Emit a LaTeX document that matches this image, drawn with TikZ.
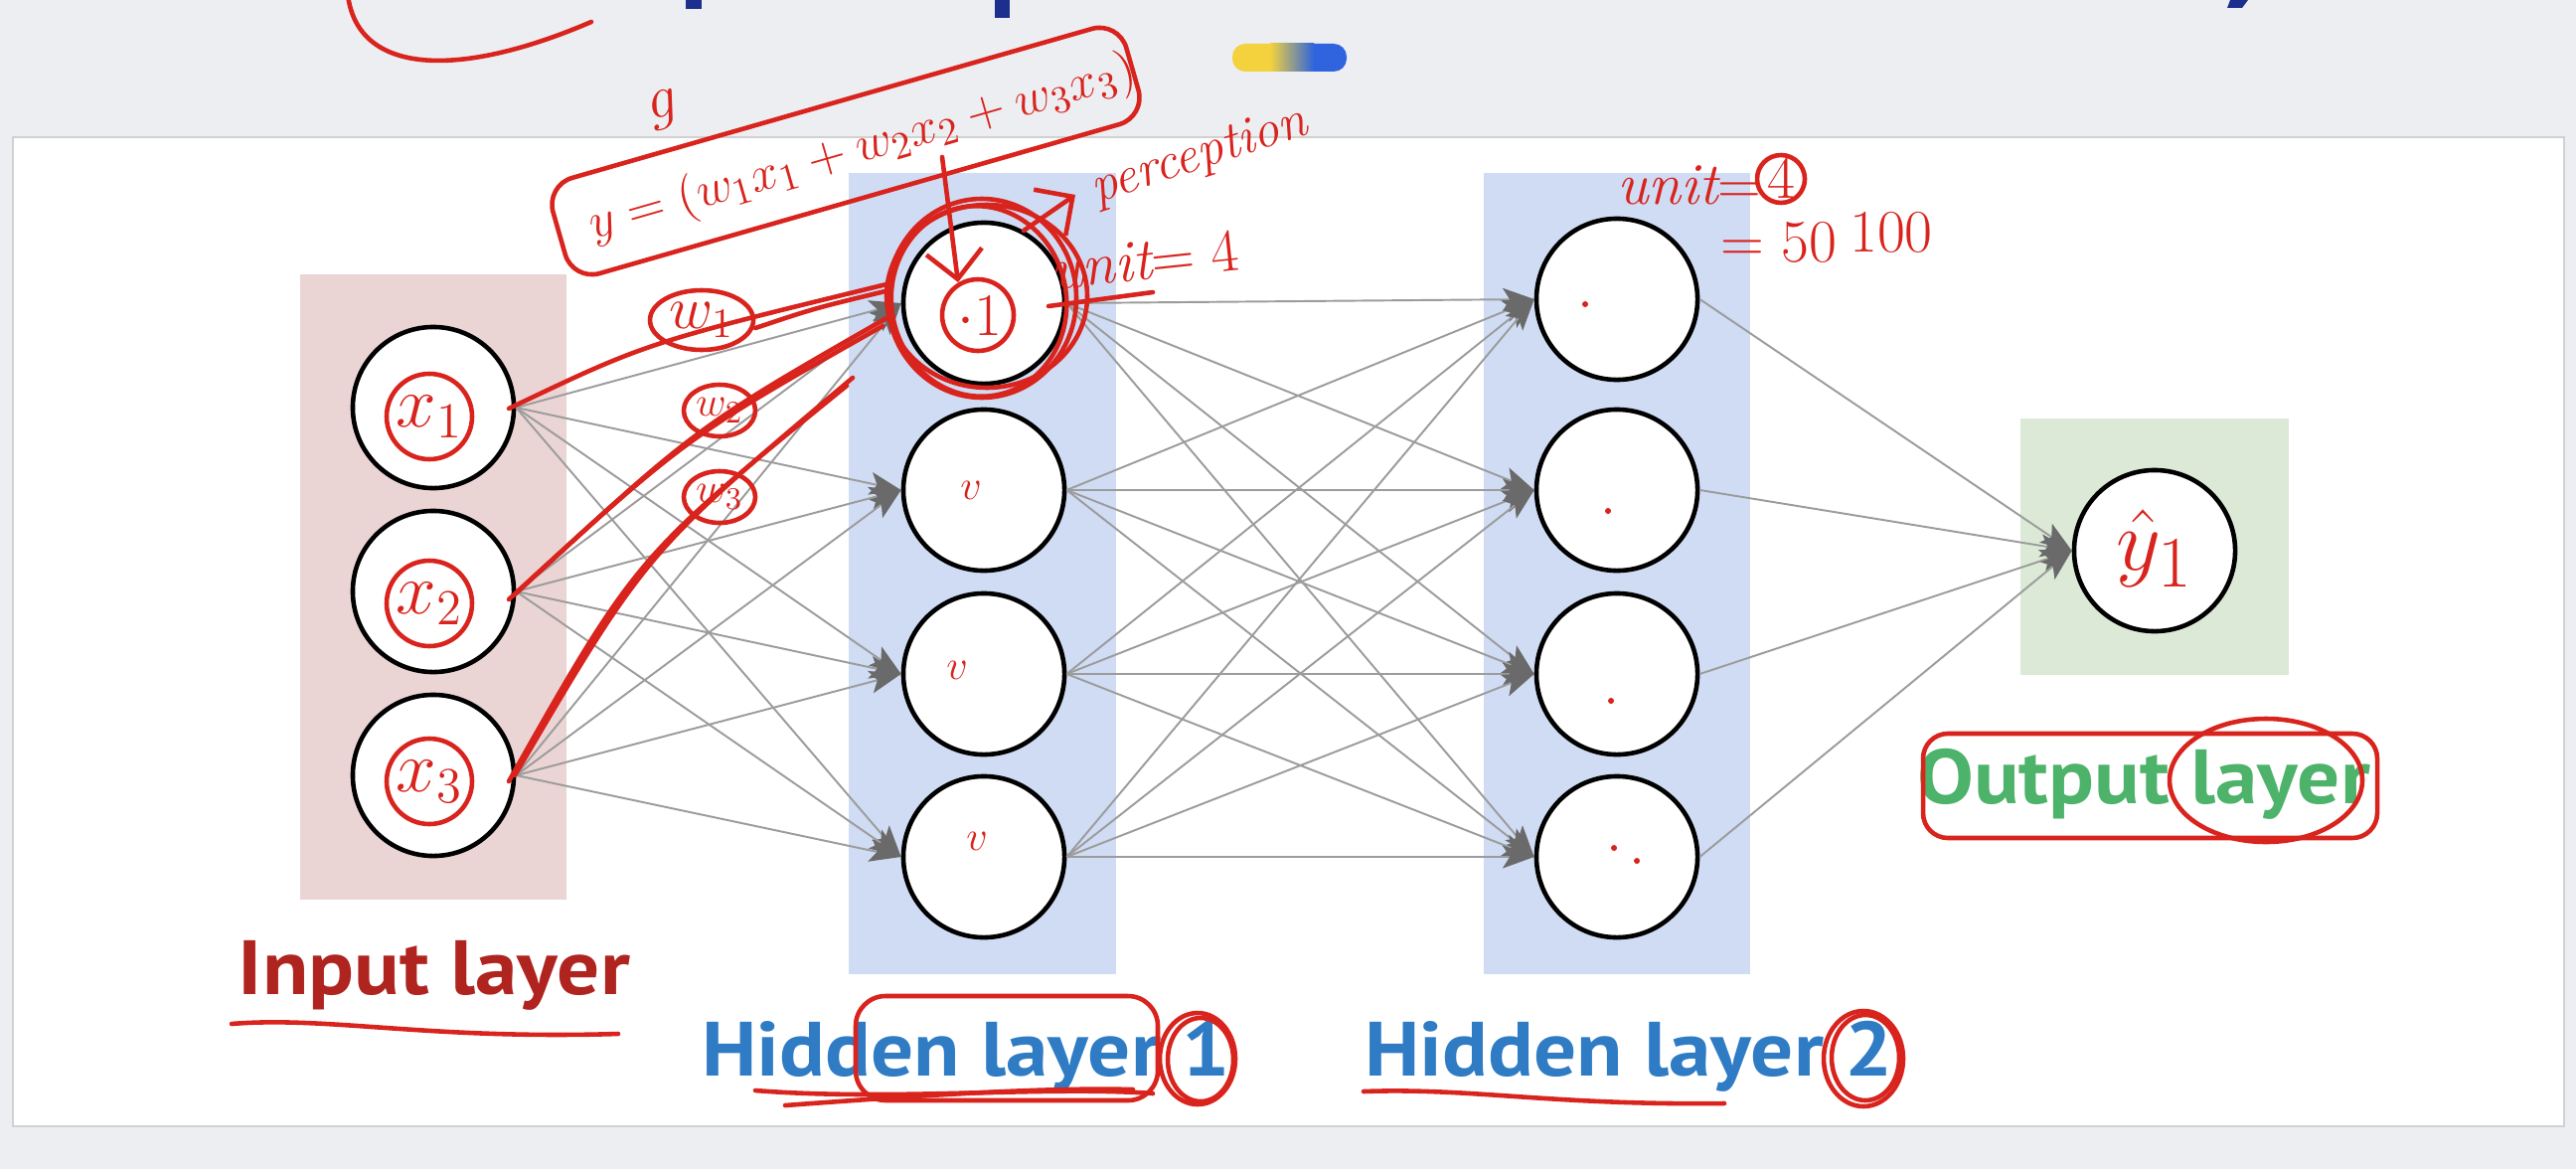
\documentclass[tikz,border=0pt]{standalone}
\usepackage{fontspec}
\newfontfamily\labfont{PT Sans}
\usetikzlibrary{arrows.meta}
\definecolor{bgcol}{HTML}{ECEEF2}
\definecolor{pinkbg}{HTML}{EBD4D4}
\definecolor{bluebg}{HTML}{CFDCF3}
\definecolor{greenbg}{HTML}{DCE9D7}
\definecolor{inred}{HTML}{B02420}
\definecolor{hidblue}{HTML}{2F7CC5}
\definecolor{outgreen}{HTML}{4DB26A}
\definecolor{conngray}{HTML}{9C9C9C}
\definecolor{arrowgray}{HTML}{6A6A6A}
\definecolor{penred}{HTML}{D9231D}
\definecolor{pillyellow}{HTML}{F3D23E}
\definecolor{pillblue}{HTML}{2F64DE}
\definecolor{titleblue}{HTML}{1C2F8E}
\begin{document}
\begin{tikzpicture}[x=0.01cm,y=-0.01cm,
  neuron/.style={circle, draw=black, line width=1.3pt, fill=white, minimum size=1.62cm, inner sep=0pt},
  conn/.style={draw=conngray, line width=0.55pt, -{Stealth[length=9pt,width=6.5pt,inset=2pt,color=arrowgray]}},
  lab/.style={font=\labfont\bfseries\fontsize{22pt}{26pt}\selectfont, anchor=base, inner sep=0pt, xscale=1.1},
  pen/.style={draw=penred, line width=1.3pt, line cap=round, line join=round},
  pentext/.style={text=penred, inner sep=0pt}]
\useasboundingbox (0,0) rectangle (2592,1176);
\fill[bgcol] (0,0) rectangle (2592,1176);
% title remnants and pill
\fill[titleblue] (1001,0) rectangle (1016,18);
\fill[titleblue] (2244,0) -- (2262,0) -- (2256,8) -- (2241,8) -- cycle;
\fill[titleblue] (690,0) rectangle (706,9);
\fill[pillyellow, rounded corners=0.13cm] (1240,44) rectangle (1300,72);
\fill[pillblue, rounded corners=0.13cm] (1295,44) rectangle (1355,72);
\shade[left color=pillyellow, right color=pillblue] (1278,44) rectangle (1322,72);
% panel
\fill[white] (13,138) rectangle (2580,1133);
\draw[black!18, line width=0.6pt] (13,138) rectangle (2580,1133);
% layer backgrounds
\fill[pinkbg] (302,276) rectangle (570,905);
\fill[bluebg] (854,174) rectangle (1123,980);
\fill[bluebg] (1493,174) rectangle (1761,980);
\fill[greenbg] (2033,421) rectangle (2303,679);
% neurons
\node[neuron] (i1) at (436,410) {};
\node[neuron] (i2) at (436,595) {};
\node[neuron] (i3) at (436,780) {};
\node[neuron] (a1) at (990,305) {};
\node[neuron] (a2) at (990,493) {};
\node[neuron] (a3) at (990,678) {};
\node[neuron] (a4) at (990,862) {};
\node[neuron] (b1) at (1627,301) {};
\node[neuron] (b2) at (1627,493) {};
\node[neuron] (b3) at (1627,678) {};
\node[neuron] (b4) at (1627,862) {};
\node[neuron] (o1) at (2168,554) {};
% connectors
\foreach \s in {i1,i2,i3}{\foreach \t in {a1,a2,a3,a4}{\draw[conn] (\s.east) -- (\t.west);}}
\foreach \s in {a1,a2,a3,a4}{\foreach \t in {b1,b2,b3,b4}{\draw[conn] (\s.east) -- (\t.west);}}
\foreach \s in {b1,b2,b3,b4}{\draw[conn] (\s.east) -- (o1.west);}
% labels
\node[lab, text=inred] (lin) at (437,1000) {Input layer};
\node[lab, text=hidblue] (lh1) at (972,1082) {Hidden layer 1};
\node[lab, text=hidblue] (lh2) at (1639,1082) {Hidden layer 2};
\node[lab, text=outgreen] (lout) at (2157,808) {Output layer};
% ---------- handwritten annotations ----------
\draw[pen] (350,-5) .. controls (360,75) and (460,80) .. (595,22);
% input symbols
\foreach \yy/\k in {419/1,607/2,786/3}{
  \draw[pen] (432,\yy) circle[radius=43];
  \node[pentext, font=\fontsize{20pt}{20pt}\selectfont] at (432,\yy) {$x_{\k}$};}
% lines from inputs to first hidden unit
\draw[pen] (512,411) .. controls (650,345) .. (892,286);
\draw[pen] (760,330) .. controls (820,310) .. (895,292);
\draw[pen] (512,603) .. controls (690,440) .. (888,328);
\draw[pen] (518,598) .. controls (700,430) .. (892,320);
\draw[pen] (512,786) .. controls (640,560) .. (852,388);
\draw[pen] (518,780) .. controls (650,555) .. (858,380);
% weights
\draw[pen] (706,322) ellipse[x radius=52, y radius=30];
\node[pentext, font=\fontsize{18pt}{18pt}\selectfont] at (706,322) {$w_1$};
\draw[pen] (724,413) ellipse[x radius=36, y radius=26];
\node[pentext, font=\fontsize{13pt}{13pt}\selectfont] at (724,413) {$w_2$};
\draw[pen] (724,500) ellipse[x radius=36, y radius=26];
\node[pentext, font=\fontsize{13pt}{13pt}\selectfont] at (724,500) {$w_3$};
% formula box
\draw[pen, rotate around={16:(851,152)}, rounded corners=0.28cm] (551,102) rectangle (1151,202);
\node[pentext, rotate=16, font=\fontsize{15pt}{15pt}\selectfont] at (868,150) {$y=(w_1x_1+w_2x_2+w_3x_3)$};
\node[pentext, rotate=16, font=\fontsize{18pt}{18pt}\selectfont] at (668,110) {$g$};
\draw[pen, -{Straight Barb[length=8pt]}] (948,158) -- (964,284);
% loops round the first hidden unit
\draw[pen] (988,300) ellipse[x radius=95, y radius=100];
\draw[pen, rotate around={10:(985,303)}] (985,303) ellipse[x radius=88, y radius=96];
\draw[pen] (993,298) ellipse[x radius=101, y radius=92];
\draw[pen] (984,317) circle[radius=36];
\node[pentext, font=\fontsize{18pt}{18pt}\selectfont] at (986,318) {$\cdot1$};
% perception / unit
\draw[pen, -{Straight Barb[length=8pt]}] (1030,232) -- (1082,196);
\node[pentext, rotate=18, font=\fontsize{15pt}{15pt}\selectfont\itshape] at (1207,158) {perception};
\node[pentext, rotate=6, font=\fontsize{17pt}{17pt}\selectfont\itshape] at (1152,262) {unit$=4$};
\draw[pen] (1055,308) -- (1160,294);
\node[pentext, font=\fontsize{17pt}{17pt}\selectfont\itshape] at (1700,186) {unit$=$};
\draw[pen] (1792,180) circle[radius=24];
\node[pentext, font=\fontsize{17pt}{17pt}\selectfont] at (1792,180) {$4$};
\node[pentext, font=\fontsize{17pt}{17pt}\selectfont] at (1790,244) {$=50$};
\node[pentext, font=\fontsize{17pt}{17pt}\selectfont] at (1903,234) {$100$};
% marks in the circles
\node[pentext, font=\fontsize{12pt}{12pt}\selectfont] at (977,493) {$v$};
\node[pentext, font=\fontsize{12pt}{12pt}\selectfont] at (963,674) {$v$};
\node[pentext, font=\fontsize{12pt}{12pt}\selectfont] at (983,846) {$v$};
\fill[penred] (1595,306) circle[radius=3];
\fill[penred] (1618,514) circle[radius=3];
\fill[penred] (1621,705) circle[radius=3];
\fill[penred] (1624,853) circle[radius=3];
\fill[penred] (1647,866) circle[radius=3];
\node[pentext, font=\fontsize{28pt}{28pt}\selectfont] at (2168,552) {$\hat{y}_1$};
% label marks
\draw[pen] (233,1030) .. controls (330,1022) and (430,1046) .. (622,1040);
\draw[pen, rounded corners=0.3cm] (861,1002) rectangle (1165,1107);
\draw[pen] (760,1097) .. controls (900,1108) and (1050,1092) .. (1160,1100);
\draw[pen] (790,1112) .. controls (950,1100) and (1060,1094) .. (1140,1096);
\draw[pen] (1205,1065) ellipse[x radius=38, y radius=46];
\draw[pen] (1208,1066) ellipse[x radius=33, y radius=42];
\draw[pen] (1372,1098) .. controls (1480,1094) and (1560,1112) .. (1735,1110);
\draw[pen] (1875,1065) ellipse[x radius=40, y radius=48];
\draw[pen] (1877,1064) ellipse[x radius=34, y radius=43];
\draw[pen, rounded corners=0.25cm] (1935,738) rectangle (2392,843);
\draw[pen] (2280,785) ellipse[x radius=97, y radius=62];
\end{tikzpicture}
\end{document}
